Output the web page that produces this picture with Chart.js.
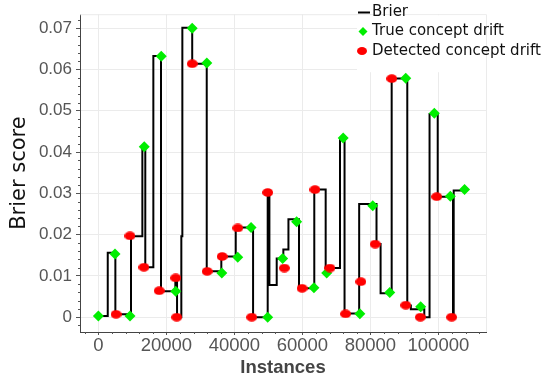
<!DOCTYPE html>
<html>
<head>
<meta charset="utf-8">
<script src="https://cdn.jsdelivr.net/npm/chart.js@4.4.1/dist/chart.umd.min.js"></script>
<style>
html, body { margin: 0; padding: 0; background: #fff; }
#wrap { width: 542px; height: 379px; }
</style>
</head>
<body>
<div id="wrap"><canvas id="chart"></canvas></div>
<script>
// Brier score as a step function: instance where it changes, and the new value
var brierX = [0, 2760, 5000, 9600, 12940, 13800, 16170, 18430, 22640, 23140,
              24400, 24700, 27600, 31870, 36160, 40400, 45500, 49800, 50300, 52450,
              54400, 55900, 59000, 63500, 66850, 71060, 72400, 76700, 81800, 83000,
              86260, 90850, 91900, 95850, 97400, 99800, 104300, 104500, 107800];
var brierY = [0.0003, 0.0156, 0.0007, 0.0196, 0.0414, 0.0121, 0.0633, 0.0063, 0.0095, 0.0,
              0.0196, 0.0701, 0.0614, 0.0111, 0.0147, 0.0217, 0.0, 0.0303, 0.0078, 0.0142,
              0.0164, 0.0237, 0.0070, 0.0309, 0.0119, 0.0434, 0.0009, 0.0274, 0.0177, 0.0058,
              0.0578, 0.0028, 0.0019, 0.0, 0.0492, 0.0292, 0.0, 0.0307, 0.0307];

// true concept drift points
var trueX = [0, 4900, 9300, 13500, 18500, 22750, 27600, 31900, 36300, 41000,
             44900, 49800, 54200, 58300, 63400, 67150, 72000, 76900, 80700, 85700,
             90400, 94800, 98800, 103500, 107700];
var trueY = [0.0003, 0.0153, 0.0003, 0.0413, 0.0632, 0.0063, 0.0700, 0.0616, 0.0107, 0.0145,
             0.0217, 0.0, 0.0142, 0.0231, 0.0071, 0.0107, 0.0434, 0.0008, 0.0270, 0.0060,
             0.0579, 0.0025, 0.0494, 0.0293, 0.0309];

// detected concept drift points
var detX = [5200, 9300, 13400, 17900, 22750, 23050, 27600, 32000, 36400, 41000,
            45100, 49800, 54700, 59900, 63700, 68100, 72700, 77200, 81400, 86300,
            90400, 94700, 99500, 103900];
var detY = [0.0007, 0.0197, 0.0121, 0.0064, 0.0095, 0.0, 0.0614, 0.0111, 0.0147, 0.0216,
            0.0, 0.0302, 0.0119, 0.0070, 0.0309, 0.0119, 0.0008, 0.0086, 0.0177, 0.0578,
            0.0029, 0.0, 0.0292, 0.0];

// tick labels
var xTicks = [0, 20000, 40000, 60000, 80000, 100000];
var yTicks = [0, 0.01, 0.02, 0.03, 0.04, 0.05, 0.06, 0.07];


function toPoints(xs, ys) {
    var pts = [];
    for (var i = 0; i < xs.length; ++i) pts.push({x: xs[i], y: ys[i]});
    return pts;
}

// red markers are slightly wider than tall
function makeEllipse(rx, ry, color) {
    var c = document.createElement('canvas');
    c.width = Math.ceil(rx * 2);
    c.height = Math.ceil(ry * 2);
    var g = c.getContext('2d');
    g.fillStyle = color;
    g.beginPath();
    g.ellipse(c.width / 2, c.height / 2, rx, ry, 0, 0, Math.PI * 2);
    g.fill();
    return c;
}
var redDot = makeEllipse(5.5, 4.3, '#ff0000');
var redDotSmall = makeEllipse(5, 4, '#ff0000');


// light frame on top and right of the panel
var panelFrame = {
    id: 'panelFrame',
    beforeDatasetsDraw: function (chart) {
        var ctx = chart.ctx, a = chart.chartArea;
        ctx.save();
        ctx.strokeStyle = '#ebebeb';
        ctx.lineWidth = 1;
        ctx.beginPath();
        ctx.moveTo(a.left, a.top + 0.5);
        ctx.lineTo(a.right + 0.5, a.top + 0.5);
        ctx.lineTo(a.right + 0.5, a.bottom);
        ctx.stroke();
        ctx.restore();
    }
};

// short minor tick marks, five per labelled step
var minorTicks = {
    id: 'minorTicks',
    afterDraw: function (chart) {
        var ctx = chart.ctx, x = chart.scales.x, y = chart.scales.y;
        var xs = (xTicks[1] - xTicks[0]) / 5, ys = (yTicks[1] - yTicks[0]) / 5;
        ctx.save();
        ctx.strokeStyle = '#555';
        ctx.lineWidth = 1;
        ctx.beginPath();
        for (var i = Math.ceil(x.min / xs); i * xs <= x.max; i++) {
            if (i % 5 === 0) continue;
            var px = Math.round(x.getPixelForValue(i * xs)) + 0.5;
            ctx.moveTo(px, x.top);
            ctx.lineTo(px, x.top + 2);
        }
        for (var k = Math.ceil(y.min / ys); k * ys <= y.max; k++) {
            if (k % 5 === 0) continue;
            var py = Math.round(y.getPixelForValue(k * ys)) + 0.5;
            ctx.moveTo(y.right - 2, py);
            ctx.lineTo(y.right, py);
        }
        ctx.stroke();
        ctx.restore();
    }
};

// legend in the top right corner, partly outside the panel
var cornerLegend = {
    id: 'cornerLegend',
    afterDraw: function (chart) {
        var ctx = chart.ctx, a = chart.chartArea;
        var sets = chart.data.datasets;
        ctx.save();
        ctx.fillStyle = '#fff';
        ctx.fillRect(357, a.top + 1, a.right - 357, 57);

        var rows = [12.5, 31.5, 51];
        ctx.font = '15px "DejaVu Sans"';
        ctx.textBaseline = 'middle';
        ctx.textAlign = 'left';

        // Brier line
        ctx.strokeStyle = '#000';
        ctx.lineWidth = 2;
        ctx.beginPath();
        ctx.moveTo(358, rows[0]);
        ctx.lineTo(370, rows[0]);
        ctx.stroke();

        // green diamond
        ctx.fillStyle = sets[1].backgroundColor;
        ctx.beginPath();
        ctx.moveTo(363, rows[1] - 4.5);
        ctx.lineTo(367.5, rows[1]);
        ctx.lineTo(363, rows[1] + 4.5);
        ctx.lineTo(358.5, rows[1]);
        ctx.closePath();
        ctx.fill();

        // red dot
        ctx.drawImage(redDotSmall, 362 - redDotSmall.width / 2, rows[2] - redDotSmall.height / 2);

        ctx.fillStyle = '#111';
        for (var i = 0; i < sets.length; ++i) {
            ctx.fillText(sets[i].label, 372, rows[i]);
        }
        ctx.restore();
    }
};


new Chart(document.getElementById('chart'), {
    type: 'scatter',
    data: {
        datasets: [
            {
                label: 'Brier',
                data: toPoints(brierX, brierY),
                showLine: true,
                stepped: 'before',
                borderColor: '#000',
                borderWidth: 2,
                pointRadius: 0,
                fill: false,
                order: 3
            },
            {
                label: 'True concept drift',
                data: toPoints(trueX, trueY),
                pointStyle: 'rectRot',
                pointRadius: 5.5,
                backgroundColor: '#00ee00',
                borderWidth: 0,
                order: 2
            },
            {
                label: 'Detected concept drift',
                data: toPoints(detX, detY),
                pointStyle: redDot,
                backgroundColor: '#ff0000',
                borderWidth: 0,
                order: 1
            }
        ]
    },
    options: {
        responsive: true,
        maintainAspectRatio: false,
        animation: false,
        layout: {padding: {left: 0, top: 5, right: 56, bottom: 0}},
        plugins: {
            legend: {display: false},
            tooltip: {enabled: false}
        },
        scales: {
            x: {
                type: 'linear',
                min: -5400,
                max: 114000,
                afterFit: function (s) { s.height = 47; },
                afterBuildTicks: function (s) {
                    s.ticks = xTicks.map(function (v) { return {value: v}; });
                },
                ticks: {
                    autoSkip: false,
                    maxRotation: 0,
                    padding: 0,
                    color: '#555',
                    font: {family: 'Liberation Sans', size: 18.5},
                    callback: function (v) { return String(v); }
                },
                grid: {color: '#ebebeb', tickColor: '#555', tickLength: 3},
                border: {color: '#444', width: 1},
                title: {
                    display: true,
                    text: 'Instances',
                    color: '#444',
                    font: {family: 'Liberation Sans', size: 18.5, weight: 'bold'},
                    padding: {top: 0, bottom: 0}
                }
            },
            y: {
                type: 'linear',
                min: -0.0036,
                max: 0.0734,
                afterFit: function (s) { s.width = 80; },
                afterBuildTicks: function (s) {
                    s.ticks = yTicks.map(function (v) { return {value: v}; });
                },
                ticks: {
                    autoSkip: false,
                    padding: 4,
                    color: '#555',
                    font: {family: 'Liberation Sans', size: 17},
                    callback: function (v) { return v === 0 ? '0' : v.toFixed(2); }
                },
                grid: {color: '#ebebeb', tickColor: '#555', tickLength: 4},
                border: {color: '#444', width: 1},
                title: {
                    display: true,
                    text: 'Brier score',
                    color: '#111',
                    font: {family: 'DejaVu Sans', size: 21},
                    padding: {top: 7, bottom: 0}
                }
            }
        }
    },
    plugins: [panelFrame, minorTicks, cornerLegend]
});
</script>
</body>
</html>
